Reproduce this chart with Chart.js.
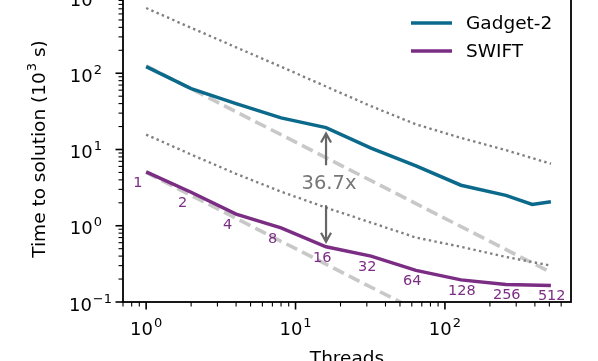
<!DOCTYPE html>
<html>
<head>
<meta charset="utf-8">
<script src="https://cdn.jsdelivr.net/npm/chart.js@4"></script>
<style>
  html, body { margin: 0; padding: 0; background: #fff; overflow: hidden; }
  #wrap { position: absolute; left: 0; top: -39px; width: 598px; height: 400px; }
</style>
</head>
<body>
<div id="wrap"><canvas id="chart" width="598" height="400"></canvas></div>
<script>
// values
const threads = [1, 2, 4, 8, 16, 32, 64, 128, 256, 512];
const gadgetThreads = [1, 2, 4, 8, 16, 32, 64, 128, 256, 384, 512];
const gadgetTimes = [122, 63, 40, 26, 19.4, 10.4, 6.1, 3.4, 2.5, 1.9, 2.07];
const swiftTimes = [5.1, 2.75, 1.42, 0.94, 0.53, 0.40, 0.26, 0.195, 0.17, 0.165];
const upperDotted = [717, 394, 219, 122, 67, 37, 21.4, 14.2, 9.8, 6.5];
const lowerDotted = [15.7, 8.6, 4.8, 2.8, 1.73, 1.1, 0.70, 0.53, 0.39, 0.30];
const idealThreads = [1, 512];
const gadgetIdeal = [125, 0.244];
const swiftIdeal = [5.0, 0.0098];
const speedupLabel = '36.7x';
const xTickExps = [0, 1, 2];
const yTickExps = [-1, 0, 1, 2, 3];

const GADGET = '#0b6a8b';
const SWIFT = '#7b2d84';
const FONT = '"DejaVu Sans", sans-serif';

const ctx = document.getElementById('chart').getContext('2d');

const pts = (xs, ys) => xs.map((x, i) => ({ x: x, y: ys[i] }));

function drawPower(c, exp, x, y, align) {
    const base = '10';
    const sup = exp < 0 ? '\u2212' + (-exp) : String(exp);
    c.font = '18px ' + FONT;
    const wb = c.measureText(base).width;
    c.font = '13px ' + FONT;
    const ws = c.measureText(sup).width;
    const left = align === 'right' ? x - wb - ws - 1 : x - (wb + ws + 1) / 2;
    c.textAlign = 'left';
    c.textBaseline = 'alphabetic';
    c.font = '18px ' + FONT;
    c.fillText(base, left, y);
    c.font = '13px ' + FONT;
    c.fillText(sup, left + wb + 1, y - 8);
}

const annotate = {
    id: 'annotate',
    afterDatasetsDraw(chart) {
        const c = chart.ctx;
        const xs = chart.scales.x, ys = chart.scales.y;
        c.save();

        // thread counts under the SWIFT line
        c.font = '14.5px ' + FONT;
        c.fillStyle = SWIFT;
        c.textAlign = 'left';
        c.textBaseline = 'middle';
        threads.forEach((n, i) => {
            c.fillText(String(n), xs.getPixelForValue(n) - 13, ys.getPixelForValue(swiftTimes[i]) + 11);
        });

        // speed-up at 16 threads
        const ax = xs.getPixelForValue(16);
        const yTop = ys.getPixelForValue(gadgetTimes[gadgetThreads.indexOf(16)]);
        const yBot = ys.getPixelForValue(swiftTimes[threads.indexOf(16)]);
        const yMid = (yTop + yBot) / 2;
        c.fillStyle = '#777';
        c.font = '19.5px ' + FONT;
        c.textAlign = 'center';
        c.fillText(speedupLabel, ax + 3, yMid - 3);

        c.strokeStyle = '#666';
        c.lineWidth = 2.2;
        const arrow = (y0, y1) => {
            const dir = y1 > y0 ? 1 : -1;
            c.beginPath();
            c.moveTo(ax, y0);
            c.lineTo(ax, y1);
            c.moveTo(ax - 5, y1 - dir * 9);
            c.lineTo(ax, y1);
            c.lineTo(ax + 5, y1 - dir * 9);
            c.stroke();
        };
        arrow(yMid - 22, yTop + 6);
        arrow(yMid + 18, yBot - 5);
        c.restore();
    },
    afterDraw(chart) {
        const c = chart.ctx;
        const a = chart.chartArea;
        const xs = chart.scales.x, ys = chart.scales.y;
        c.save();
        c.strokeStyle = '#000';
        c.fillStyle = '#000';

        // frame
        c.lineWidth = 1.8;
        c.strokeRect(a.left, a.top, a.right - a.left, a.bottom - a.top);

        // ticks
        const tick = (len, w, horizontal, p) => {
            c.lineWidth = w;
            c.beginPath();
            if (horizontal) {
                c.moveTo(p, a.bottom); c.lineTo(p, a.bottom + len);
            } else {
                c.moveTo(a.left, p); c.lineTo(a.left - len, p);
            }
            c.stroke();
        };
        for (let d = -1; d <= 2; d++) {
            for (let m = 1; m <= 9; m++) {
                const v = m * Math.pow(10, d);
                if (v < xs.min || v > xs.max) continue;
                tick(m === 1 ? 7.5 : 4.5, m === 1 ? 1.6 : 1.1, true, xs.getPixelForValue(v));
            }
        }
        for (let d = -1; d <= 3; d++) {
            for (let m = 1; m <= 9; m++) {
                const v = m * Math.pow(10, d);
                if (v < ys.min || v > ys.max) continue;
                tick(m === 1 ? 7.5 : 4.5, m === 1 ? 1.6 : 1.1, false, ys.getPixelForValue(v));
            }
        }

        // tick labels
        xTickExps.forEach(e => drawPower(c, e, xs.getPixelForValue(Math.pow(10, e)), a.bottom + 33, 'center'));
        yTickExps.forEach(e => {
            const y = ys.getPixelForValue(Math.pow(10, e));
            drawPower(c, e, a.left - 21 + (e < 0 ? 10 : 0), y + 8.5, 'right');
        });

        // axis titles
        c.font = '18.5px ' + FONT;
        c.textAlign = 'center';
        c.textBaseline = 'alphabetic';
        c.fillText('Threads', (a.left + a.right) / 2, a.bottom + 62);

        c.save();
        c.translate(45, (a.top + a.bottom) / 2);
        c.rotate(-Math.PI / 2);
        const t1 = 'Time to solution (10', t2 = '3', t3 = ' s)';
        c.font = '18.5px ' + FONT;
        const w1 = c.measureText(t1).width, w3 = c.measureText(t3).width;
        c.font = '13px ' + FONT;
        const w2 = c.measureText(t2).width;
        const x = -(w1 + w2 + w3) / 2;
        c.textAlign = 'left';
        c.font = '18.5px ' + FONT;
        c.fillText(t1, x, 0);
        c.font = '13px ' + FONT;
        c.fillText(t2, x + w1 + 1, -9);
        c.font = '18.5px ' + FONT;
        c.fillText(t3, x + w1 + w2 + 1, 0);
        c.restore();

        // legend
        const legend = [['Gadget-2', GADGET], ['SWIFT', SWIFT]];
        legend.forEach(([name, col], i) => {
            const y = a.top + 26 + i * 28;
            c.strokeStyle = col;
            c.lineWidth = 3.5;
            c.beginPath();
            c.moveTo(a.right - 160, y);
            c.lineTo(a.right - 119, y);
            c.stroke();
            c.font = '18.5px ' + FONT;
            c.textAlign = 'left';
            c.textBaseline = 'middle';
            c.fillText(name, a.right - 105, y + 1);
        });
        c.restore();
    }
};

new Chart(ctx, {
    type: 'line',
    data: {
        datasets: [
            { label: 'Gadget-2', data: pts(gadgetThreads, gadgetTimes), borderColor: GADGET, borderWidth: 3.5, pointRadius: 0, tension: 0 },
            { label: 'SWIFT', data: pts(threads, swiftTimes), borderColor: SWIFT, borderWidth: 3.5, pointRadius: 0, tension: 0 },
            { label: 'upper bound', data: pts(threads, upperDotted), borderColor: '#808080', borderWidth: 2.4, borderDash: [2.4, 3.3], pointRadius: 0 },
            { label: 'lower bound', data: pts(threads, lowerDotted), borderColor: '#808080', borderWidth: 2.4, borderDash: [2.4, 3.3], pointRadius: 0 },
            { label: 'Gadget-2 ideal', data: pts(idealThreads, gadgetIdeal), borderColor: '#c8c8c8', borderWidth: 3.6, borderDash: [12, 5.5], pointRadius: 0 },
            { label: 'SWIFT ideal', data: pts(idealThreads, swiftIdeal), borderColor: '#c8c8c8', borderWidth: 3.6, borderDash: [12, 5.5], pointRadius: 0 }
        ]
    },
    options: {
        responsive: false,
        animation: false,
        devicePixelRatio: 1,
        layout: { padding: { left: 123, right: 27, top: 36, bottom: 59 } },
        plugins: { legend: { display: false }, tooltip: { enabled: false } },
        scales: {
            x: { type: 'logarithmic', min: 0.736, max: 698, display: false },
            y: { type: 'logarithmic', min: 0.1, max: 1000, display: false }
        }
    },
    plugins: [annotate]
});
</script>
</body>
</html>
